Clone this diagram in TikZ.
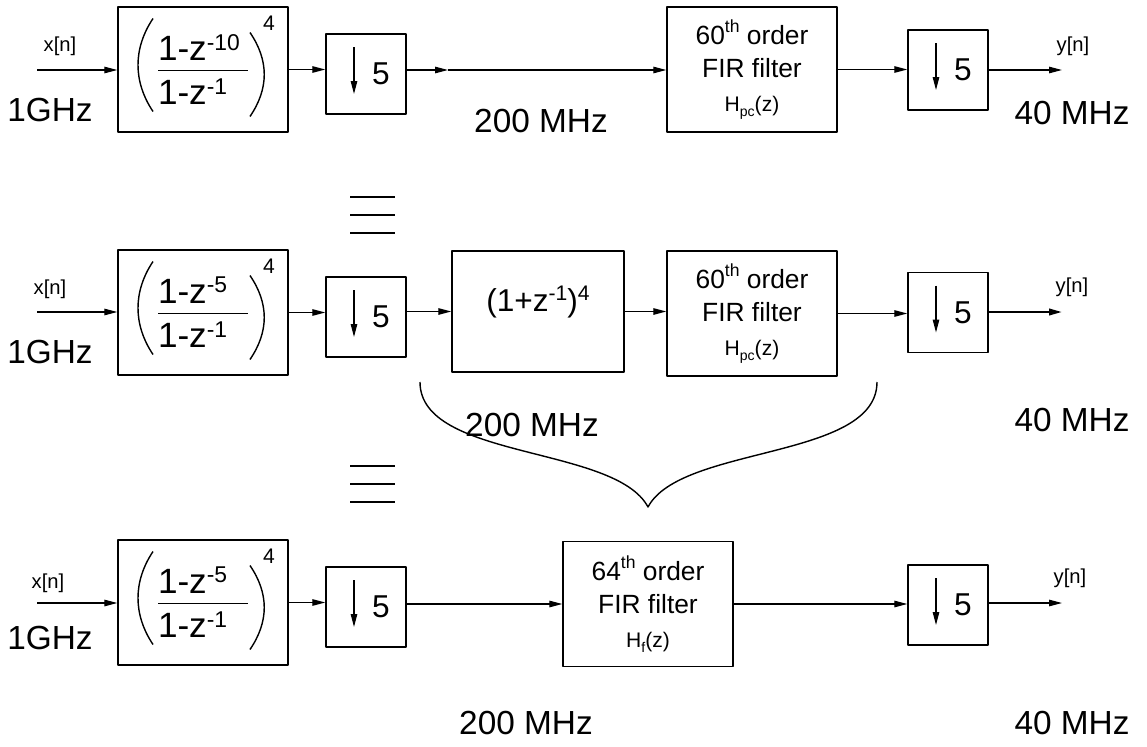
\documentclass[tikz,border=0pt]{standalone}
\usepackage{fontspec}
\setmainfont{Liberation Sans}
\usetikzlibrary{arrows.meta}

\newcommand\sigfont{\fontsize{11.5}{13}\selectfont}
\newcommand\ratefont{\fontsize{19}{23}\selectfont}
\newcommand\fracfont{\fontsize{20}{24}\selectfont}
\newcommand\polyfont{\fontsize{18}{22}\selectfont}
\newcommand\dnfont{\fontsize{18}{22}\selectfont}
\newcommand\firfont{\fontsize{15}{19}\selectfont}
\newcommand\hfont{\fontsize{12}{14}\selectfont}
\newcommand\supsm[3][0.85ex]{\raisebox{#1}{\fontsize{#2}{#2}\selectfont #3}}
\newcommand\subsm[2]{\raisebox{-0.45ex}{\fontsize{#1}{#1}\selectfont #2}}
\newcommand\ratio[2]{$\displaystyle\frac{\raisebox{-2.8pt}{\makebox[1.8cm][l]{#1}}}{\makebox[1.8cm][l]{#2}}$}

\tikzset{
  blk/.style={draw, line width=0.8pt, inner sep=0pt},
  fracbox/.style={blk, minimum width=3.4cm, minimum height=2.5cm, font=\fracfont,
    path picture={
      \draw[line width=0.8pt] ([shift={(-50,-51)}]path picture bounding box.center) .. controls +(-20,30) and +(-20,-30) .. ([shift={(-50,42)}]path picture bounding box.center);
      \draw[line width=0.8pt] ([shift={(47,-37)}]path picture bounding box.center) .. controls +(19,28) and +(19,-28) .. ([shift={(47,47)}]path picture bounding box.center);
      \node[font=\fontsize{12}{12}\selectfont, inner sep=0pt] at ([shift={(66,-46)}]path picture bounding box.center) {4};
    }},
  dnbox/.style={blk, minimum width=1.6cm, minimum height=1.6cm, font=\dnfont,
    path picture={
      \draw[->, line width=0.7pt] ([shift={(-12,-27)}]path picture bounding box.center) -- ([shift={(-12,20)}]path picture bounding box.center);
    }},
  polybox/.style={blk, minimum width=3.44cm, minimum height=2.42cm, font=\polyfont},
  firbox/.style={blk, minimum width=3.4cm, minimum height=2.5cm, align=center, font=\firfont},
  sig/.style={->, line width=0.7pt},
  sigtxt/.style={font=\sigfont, inner sep=0pt},
  ratetxt/.style={font=\ratefont, inner sep=0pt}
}

\begin{document}
\begin{tikzpicture}[x=0.02cm, y=-0.02cm, line join=round, >={Triangle[length=2.6mm,width=1.3mm]}]
\def\ya{70} \def\yb{312} \def\yc{603}
\useasboundingbox (0,0) rectangle (1147,747);

% first chain: 1-z^-10 comb
\node[fracbox] (A1) at (203,69.5) {\ratio{1-z\supsm[0.55ex]{13}{-10}}{1-z\supsm[0.55ex]{13}{-1}}};
\node[dnbox] (D1) at (366,74) {\hspace*{0.6cm}5};
\node[firbox] (F1) at (752,69.5) {60\supsm{10}{th} order\\FIR filter\\{\hfont H\subsm{8}{pc}(z)}};
\node[dnbox] (E1) at (948,70) {\hspace*{0.6cm}5};
\coordinate (in1) at (37,\ya); \coordinate (m1) at (448,\ya); \coordinate (out1) at (1062,\ya);
\draw[sig] (in1) -- (in1 -| A1.west);
\draw[sig] (A1.east) -- (A1.east -| D1.west);
\draw[sig] (D1.east |- m1) -- (m1);
\draw[sig] (m1) -- (m1 -| F1.west);
\draw[sig] (F1.east) -- (F1.east -| E1.west);
\draw[sig] (E1.east |- out1) -- (out1);
\node[sigtxt] (x1) at (60,46) {x[n]};
\node[ratetxt] (g1) at (50,110) {1GHz};
\node[ratetxt] (r1) at (541,121) {200 MHz};
\node[sigtxt] (y1) at (1073,46) {y[n]};
\node[ratetxt] (s1) at (1072,113) {40 MHz};

\foreach \y in {197,215,233} {\draw[line width=0.8pt] (350,\y) -- (395,\y);}

% second chain: split comb
\node[fracbox] (A2) at (203,312.5) {\ratio{1-z\supsm[0.55ex]{13}{-5}}{1-z\supsm[0.55ex]{13}{-1}}};
\node[dnbox] (D2) at (366,317) {\hspace*{0.6cm}5};
\node[polybox] (P2) at (538,311.5) {\smash{(1+z\supsm[0.65ex]{12}{-1})\supsm[0.65ex]{12}{4}}};
\node[firbox] (F2) at (752,313.5) {60\supsm{10}{th} order\\FIR filter\\{\hfont H\subsm{8}{pc}(z)}};
\node[dnbox] (E2) at (948,312.5) {\hspace*{0.6cm}5};
\coordinate (in2) at (37,\yb); \coordinate (out2) at (1062,\yb);
\draw[sig] (in2) -- (in2 -| A2.west);
\draw[sig] (A2.east) -- (A2.east -| D2.west);
\draw[sig] (D2.east |- P2.west) -- (P2.west);
\draw[sig] (P2.east) -- (P2.east -| F2.west);
\draw[sig] (F2.east) -- (F2.east -| E2.west);
\draw[sig, line width=1.3pt] (E2.east |- out2) -- (out2);
\node[sigtxt] (x2) at (50,289) {x[n]};
\node[ratetxt] (g2) at (50,352) {1GHz};
\node[ratetxt] (r2) at (532,425) {200 MHz};
\node[sigtxt] (y2) at (1072,287) {y[n]};
\node[ratetxt] (s2) at (1072,420) {40 MHz};
\draw[line width=0.8pt] (420,382) .. controls (420,460) and (615,445) .. (648,507) .. controls (681,445) and (877,460) .. (877,382);

\foreach \y in {466,484,502} {\draw[line width=0.8pt] (350,\y) -- (395,\y);}

% third chain: merged FIR
\node[fracbox] (A3) at (203,602.5) {\ratio{1-z\supsm[0.55ex]{13}{-5}}{1-z\supsm[0.55ex]{13}{-1}}};
\node[dnbox] (D3) at (366,607) {\hspace*{0.6cm}5};
\node[firbox] (F3) at (648,604) {64\supsm{10}{th} order\\FIR filter\\{\hfont H\subsm{8}{f}(z)}};
\node[dnbox] (E3) at (948,605) {\hspace*{0.6cm}5};
\coordinate (in3) at (37,\yc); \coordinate (out3) at (1062,\yc);
\draw[sig] (in3) -- (in3 -| A3.west);
\draw[sig] (A3.east) -- (A3.east -| D3.west);
\draw[sig] (D3.east |- F3.west) -- (F3.west);
\draw[sig] (F3.east) -- (F3.east -| E3.west);
\draw[sig] (E3.east |- out3) -- (out3);
\node[sigtxt] (x3) at (48,583) {x[n]};
\node[ratetxt] (g3) at (50,638) {1GHz};
\node[ratetxt] (r3) at (526,723) {200 MHz};
\node[sigtxt] (y3) at (1070,578) {y[n]};
\node[ratetxt] (s3) at (1072,723) {40 MHz};
\end{tikzpicture}
\end{document}
